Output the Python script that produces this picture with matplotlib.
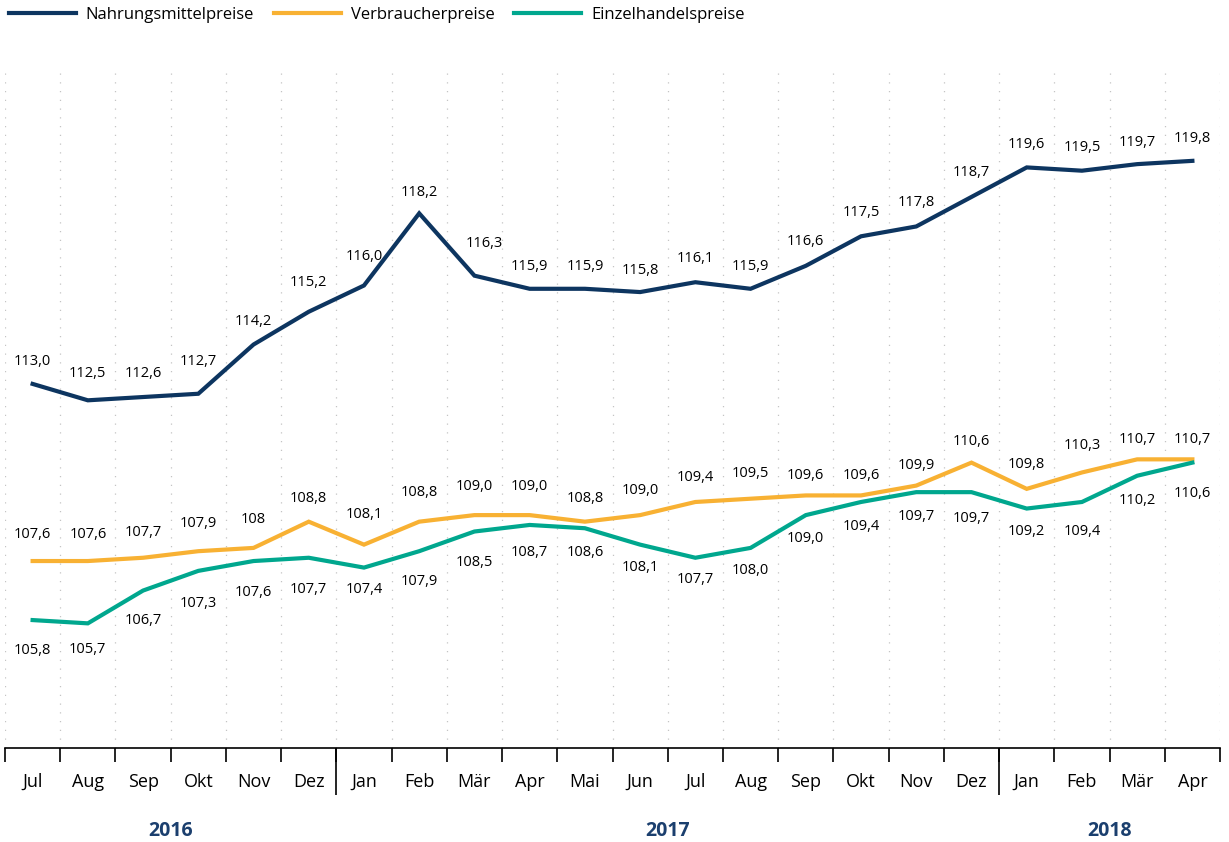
import numpy as np
import matplotlib.pyplot as plt
from matplotlib.transforms import blended_transform_factory

plt.rcParams['font.family'] = ['Open Sans', 'DejaVu Sans']

months = ['Jul', 'Aug', 'Sep', 'Okt', 'Nov', 'Dez',
          'Jan', 'Feb', 'Mär', 'Apr', 'Mai', 'Jun', 'Jul', 'Aug', 'Sep', 'Okt', 'Nov', 'Dez',
          'Jan', 'Feb', 'Mär', 'Apr']
years = ['2016'] * 6 + ['2017'] * 12 + ['2018'] * 4

food = [113.0, 112.5, 112.6, 112.7, 114.2, 115.2, 116.0, 118.2, 116.3, 115.9, 115.9,
        115.8, 116.1, 115.9, 116.6, 117.5, 117.8, 118.7, 119.6, 119.5, 119.7, 119.8]
consumer = [107.6, 107.6, 107.7, 107.9, 108.0, 108.8, 108.1, 108.8, 109.0, 109.0, 108.8,
            109.0, 109.4, 109.5, 109.6, 109.6, 109.9, 110.6, 109.8, 110.3, 110.7, 110.7]
retail = [105.8, 105.7, 106.7, 107.3, 107.6, 107.7, 107.4, 107.9, 108.5, 108.7, 108.6,
          108.1, 107.7, 108.0, 109.0, 109.4, 109.7, 109.7, 109.2, 109.4, 110.2, 110.6]

# label text as printed (one value is shown without decimals)
consumer_text = [None] * len(consumer)
consumer_text[4] = '108'

# label offsets in pixels (label centre relative to point)
food_dy = [22, 27, 24, 32, 23, 29, 29, 21, 32, 22, 22, 22, 24, 22, 24, 24, 24, 24, 23, 23, 22, 22]
food_dx = [0] * 22
food_dx[8] = 10
consumer_dy = [27, 27, 25, 28, 28, 23, 30, 29, 29, 29, 23, 25, 24, 25, 20, 20, 20, 21, 24, 27, 20, 20]
retail_dy = [-30, -26, -30, -33, -31, -32, -22, -30, -31, -28, -24, -23, -22, -23, -23, -25,
             -24, -26, -23, -30, -25, -31]

c_food = '#0d3560'
c_cons = '#f8b133'
c_ret = '#00a78e'
c_year = '#1b3f6e'

fig = plt.figure(figsize=(12.29, 8.42), dpi=100)
ax = fig.add_axes([5 / 1229, 1 - 748 / 842, 1215 / 1229, 678 / 842])

x = np.arange(len(months))
ax.plot(x, food, color=c_food, lw=3.0, solid_joinstyle='miter', label='Nahrungsmittelpreise')
ax.plot(x, consumer, color=c_cons, lw=3.0, solid_joinstyle='miter', label='Verbraucherpreise')
ax.plot(x, retail, color=c_ret, lw=3.0, solid_joinstyle='miter', label='Einzelhandelspreise')


def fmt(v):
    return ('%.1f' % v).replace('.', ',')


for i in range(len(x)):
    ax.annotate(fmt(food[i]), (x[i], food[i]), xytext=(food_dx[i], food_dy[i]),
                textcoords='offset pixels', ha='center', va='center', fontsize=10.5)
    t = consumer_text[i] or fmt(consumer[i])
    ax.annotate(t, (x[i], consumer[i]), xytext=(0, consumer_dy[i]),
                textcoords='offset pixels', ha='center', va='center', fontsize=10.5)
    ax.annotate(fmt(retail[i]), (x[i], retail[i]), xytext=(0, retail_dy[i]),
                textcoords='offset pixels', ha='center', va='center', fontsize=10.5)

ax.set_xlim(-0.5, len(months) - 0.5)
ax.set_ylim(101.9, 122.57)

# dotted vertical grid at month boundaries
bounds = np.arange(len(months) + 1) - 0.5
for b in bounds:
    ax.axvline(b, color='#c4c4c4', lw=0.9, ls=(0, (1, 6)), zorder=0)

for s in ['top', 'right', 'left']:
    ax.spines[s].set_visible(False)
ax.spines['bottom'].set_linewidth(1.2)
ax.set_yticks([])

ax.set_xticks(x)
ax.set_xticklabels(months, fontsize=13)
ax.tick_params(axis='x', which='major', length=0, pad=18)
ax.set_xticks(bounds, minor=True)
ax.tick_params(axis='x', which='minor', length=10, width=1.2, color='black')

# year separators and labels
trans = blended_transform_factory(ax.transData, ax.transAxes)
year_starts = [i for i in range(1, len(years)) if years[i] != years[i - 1]]
ax.vlines([i - 0.5 for i in year_starts], -0.07, 0, transform=trans, color='black',
          lw=1.2, clip_on=False)
edges = [0] + year_starts + [len(years)]
for a, b in zip(edges[:-1], edges[1:]):
    ax.text((a + b - 1) / 2, -0.122, years[a], transform=trans, ha='center', va='center',
            fontsize=14, fontweight='bold', color=c_year)

fig.legend(loc='upper left', bbox_to_anchor=(9 / 1229, 1 - 7 / 842), ncol=3, frameon=False,
           fontsize=12, handlelength=4.0, handletextpad=0.6, columnspacing=1.2,
           borderaxespad=0, borderpad=0)

fig.savefig('out.png', dpi=100)
